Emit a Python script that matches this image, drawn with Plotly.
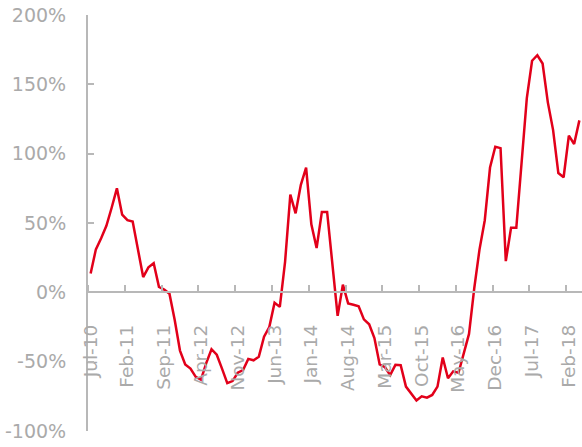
import pandas as pd
import plotly.graph_objects as go

# Monthly categories, Jul-10 through Apr-18
months = pd.date_range("2010-07-01", "2018-04-01", freq="MS")
month_labels = [d.strftime("%b-%y") for d in months]

# Year-on-year change, %
yoy_change = [
    13.5, 31, 39, 48, 61, 75, 56, 52, 51, 30,
    11, 18, 21, 4, 2, -1, -20, -42, -52, -55,
    -61, -63, -51, -41, -45, -55, -65.5, -64, -58, -56,
    -48, -49, -46.5, -32, -25, -7.5, -10.5, 22, 70.5, 57,
    77.5, 90, 49, 32, 58, 58, 20, -17, 5.5, -8,
    -9, -10, -19.5, -23, -33, -52, -54, -59.7, -52.3, -52.5,
    -68, -73, -78, -75, -76, -74, -68, -47, -62, -57,
    -58, -44, -30, 3, 31, 52, 90, 105, 104, 22.5,
    46.5, 46.5, 93, 140, 167, 171, 165, 137, 117, 86,
    83, 113, 107, 124,
]

label_step = 7
y_ticks = [-100, -50, 0, 50, 100, 150, 200]
y_tick_text = [f"{v}%" for v in y_ticks]

x_idx = list(range(len(month_labels)))
label_pos = x_idx[::label_step]
label_text = month_labels[::label_step]

axis_grey = "#B8B8B8"
text_grey = "#AAAAAA"
font_family = "DejaVu Sans"

fig = go.Figure()
fig.add_trace(go.Scatter(
    x=x_idx,
    y=yoy_change,
    mode="lines",
    line=dict(color="#E2001A", width=2.5),
    hoverinfo="skip",
    showlegend=False,
))

fig.update_layout(
    width=582,
    height=447,
    margin=dict(l=88, r=0, t=15, b=16),
    paper_bgcolor="white",
    plot_bgcolor="white",
    font=dict(family=font_family, size=18, color=text_grey),
    xaxis=dict(
        range=[-0.5, len(month_labels) - 0.5],
        tickmode="array",
        tickvals=label_pos,
        ticktext=label_text,
        tickangle=-90,
        ticks="",
        ticklabelstandoff=24,
        tickfont=dict(family=font_family, size=18.5, color=text_grey),
        showgrid=False,
        zeroline=False,
        showline=True,
        linecolor=axis_grey,
        linewidth=2,
        anchor="free",
        position=(0 - y_ticks[0]) / (y_ticks[-1] - y_ticks[0]),
        minor=dict(
            tickmode="linear",
            tick0=-0.5,
            dtick=label_step,
            ticks="inside",
            ticklen=6,
            tickwidth=2,
            tickcolor=axis_grey,
            showgrid=False,
        ),
    ),
    yaxis=dict(
        range=[y_ticks[0], y_ticks[-1]],
        tickmode="array",
        tickvals=y_ticks,
        ticktext=y_tick_text,
        ticks="inside",
        ticklen=6,
        tickwidth=2,
        tickcolor=axis_grey,
        ticklabelstandoff=16,
        tickfont=dict(family=font_family, size=19, color=text_grey),
        showgrid=False,
        zeroline=False,
        showline=True,
        linecolor=axis_grey,
        linewidth=2,
    ),
)

fig.write_html("out.html")
